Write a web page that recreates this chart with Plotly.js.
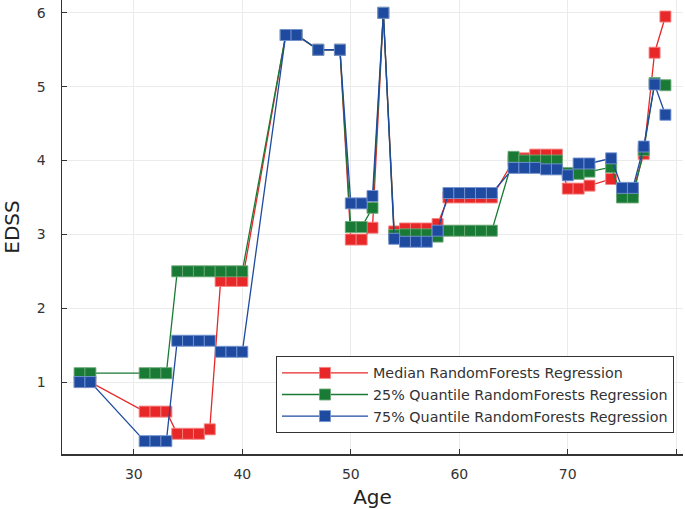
<!DOCTYPE html>
<html>
<head>
<meta charset="utf-8">
<script src="https://cdn.plot.ly/plotly-3.0.1.min.js"></script>
<style>html,body{margin:0;padding:0;background:#fff;}#chart{width:685px;height:509px;}</style>
</head>
<body>
<div id="chart"></div>
<script>
const ages = [25,26,31,32,33,34,35,36,37,38,39,40,44,45,47,49,50,51,52,53,54,55,56,57,58,59,60,61,62,63,65,66,67,68,69,70,71,72,74,75,76,77,78,79];
const medianEDSS = [1.0,1.0,0.6,0.6,0.6,0.3,0.3,0.3,0.36,2.37,2.37,2.37,5.7,5.7,5.5,5.5,2.93,2.93,3.09,6.0,3.04,3.08,3.08,3.08,3.14,3.5,3.5,3.5,3.5,3.5,4.0,4.03,4.08,4.08,4.08,3.62,3.62,3.66,3.75,3.58,3.58,4.09,5.46,5.95];
const q25EDSS = [1.12,1.12,1.12,1.12,1.12,2.5,2.5,2.5,2.5,2.5,2.5,2.5,5.7,5.7,5.5,5.5,3.1,3.1,3.36,6.0,2.99,3.0,3.0,3.0,2.97,3.05,3.05,3.05,3.05,3.05,4.05,4.0,4.0,4.0,4.0,3.83,3.82,3.85,3.91,3.5,3.5,4.14,5.05,5.02];
const q75EDSS = [1.0,1.0,0.2,0.2,0.2,1.56,1.56,1.56,1.56,1.41,1.41,1.41,5.7,5.7,5.5,5.5,3.42,3.42,3.52,6.0,2.94,2.9,2.9,2.9,3.05,3.56,3.56,3.56,3.56,3.56,3.9,3.9,3.9,3.88,3.88,3.8,3.96,3.96,4.03,3.63,3.63,4.19,5.03,4.62];
const seriesNames = ["Median RandomForests Regression","25% Quantile RandomForests Regression","75% Quantile RandomForests Regression"];
const xTicks = [30,40,50,60,70,80];
const yTicks = [1,2,3,4,5,6];

const colors = ["rgb(232,40,40)","rgb(24,122,52)","rgb(30,74,160)"];
const borders = ["rgba(245,130,130,0.9)","rgba(110,170,120,0.9)","rgba(120,150,210,0.9)"];
const ys = [medianEDSS,q25EDSS,q75EDSS];

const traces = ys.map((y,i)=>({
  x: ages, y: y, type:'scatter', mode:'lines+markers', name: seriesNames[i],
  line:{color:colors[i], width:1.3},
  marker:{symbol:'square', size:11, color:colors[i], line:{color:borders[i], width:1}}
}));

const tickFont = {family:'DejaVu Sans', size:14, color:'#333'};
const layout = {
  width:685, height:509,
  margin:{l:62, r:2, t:0, b:55},
  paper_bgcolor:'#fff', plot_bgcolor:'#fff',
  showlegend:true,
  legend:{x:0.9855, xanchor:'right', y:0.046, yanchor:'bottom', bgcolor:'#fff',
    bordercolor:'#333', borderwidth:1, font:{family:'DejaVu Sans', size:14.3, color:'#333'},
    tracegroupgap:0, itemwidth:86},
  xaxis:{range:[23.38,80.62], tickvals:xTicks, ticktext:xTicks.map(String),
    showgrid:true, gridcolor:'#ebebeb', gridwidth:1, zeroline:false,
    showline:true, linecolor:'#333', linewidth:1.5, mirror:false,
    ticks:'inside', ticklen:5, tickcolor:'#333', tickfont:tickFont, ticklabelstandoff:7,
    title:{text:'Age', font:{family:'DejaVu Sans', size:20, color:'#222'}, standoff:8}, automargin:false},
  yaxis:{range:[0.026,6.174], tickvals:yTicks, ticktext:yTicks.map(String),
    showgrid:true, gridcolor:'#ebebeb', gridwidth:1, zeroline:false,
    showline:true, linecolor:'#333', linewidth:1.5, mirror:false,
    ticks:'inside', ticklen:5, tickcolor:'#333', tickfont:tickFont, ticklabelstandoff:12,
    title:{text:'EDSS', font:{family:'DejaVu Sans', size:20, color:'#222'}, standoff:21}, automargin:false}
};
Plotly.newPlot('chart', traces, layout, {displayModeBar:false, staticPlot:true});
</script>
</body>
</html>
